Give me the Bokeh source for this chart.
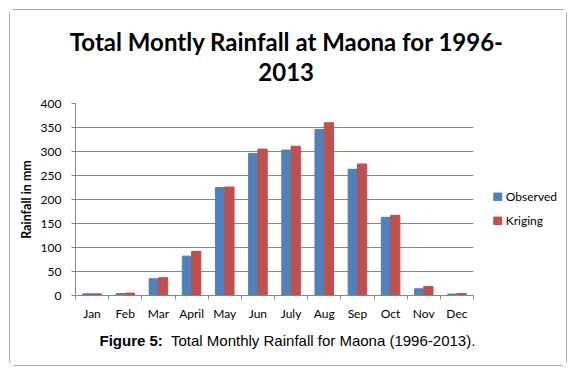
import numpy as np
from bokeh.plotting import figure
from bokeh.layouts import column, row
from bokeh.models import Range1d, FixedTicker, Label, ColumnDataSource
from bokeh.transform import dodge
from bokeh.embed import file_html
from bokeh.resources import INLINE

# ---- data ----
months = ["Jan", "Feb", "Mar", "April", "May", "Jun",
          "July", "Aug", "Sep", "Oct", "Nov", "Dec"]
observed = [3.5, 4, 35, 82, 225, 296, 303, 346, 263, 163, 14, 3]
kriging = [3.5, 5, 37, 92, 226, 305, 311, 360, 274, 167, 19, 4]
y_ticks = [0, 50, 100, 150, 200, 250, 300, 350, 400]
series_names = ["Observed", "Kriging"]
series_colors = ["#4F81BD", "#C0504D"]
title_lines = ["Total Montly Rainfall at Maona for 1996-", "2013"]
caption_bold = "Figure 5:"
caption_rest = "Total Monthly Rainfall for Maona (1996-2013)."
y_label = "Rainfall in mm"

font = "Lato"
grey = "#868686"

# ---- layout (page pixels) ----
OX, OY = 10, 10            # content origin inside the bordered box
CW, CH = 556, 355          # content size
TOP_B = 90                 # title strip bottom (page y)
MID_B = 327                # chart strip bottom (page y)
SPLIT = 480                # chart / legend split (page x)
FL, FT, FR, FB = 75, 103, 473, 295   # plot frame edges on page


def blank(x0, x1, y0, y1, **kw):
    f = figure(width=x1 - x0, height=y1 - y0, output_backend="svg",
               toolbar_location=None,
               x_axis_location=None, y_axis_location=None,
               min_border=0, min_border_left=0, min_border_right=0,
               background_fill_color="white", border_fill_color="white", **kw)
    f.grid.visible = False
    f.outline_line_color = None
    return f


# ---- title strip (data units == page pixels) ----
top = blank(OX, OX + CW, OY, TOP_B, x_range=Range1d(OX, OX + CW),
            y_range=Range1d(TOP_B, OY), min_border_top=0, min_border_bottom=0)
for txt, cx, cy in zip(title_lines, [286.5, 285.7], [41.2, 71.2]):
    top.add_layout(Label(x=cx, y=cy, text=txt, text_align="center",
                         text_baseline="middle", text_font=font,
                         text_font_style="bold", text_font_size="24px",
                         text_color="black"))

# ---- main chart ----
x = np.arange(1, len(months) + 1)
src = ColumnDataSource(dict(x=x, observed=observed, kriging=kriging))

p = figure(width=SPLIT - OX, height=MID_B - TOP_B, output_backend="svg",
           toolbar_location=None,
           x_range=Range1d(0.5, len(months) + 0.5), y_range=Range1d(0, 400),
           min_border_left=FL - OX, min_border_right=SPLIT - FR,
           min_border_top=FT - TOP_B, min_border_bottom=MID_B - FB,
           background_fill_color="white", border_fill_color="white")
p.outline_line_color = None

bw = 0.28
p.vbar(x=dodge("x", -bw / 2, range=p.x_range), top="observed", width=bw,
       source=src, fill_color=series_colors[0], line_color=series_colors[0])
p.vbar(x=dodge("x", bw / 2, range=p.x_range), top="kriging", width=bw,
       source=src, fill_color=series_colors[1], line_color=series_colors[1])

xa = p.xaxis[0]
xa.ticker = FixedTicker(ticks=list(x), minor_ticks=list(np.arange(0.5, len(months) + 1, 1.0)))
xa.major_label_overrides = {int(i): m for i, m in zip(x, months)}
xa.major_tick_line_color = None
xa.major_tick_out = 0
xa.major_tick_in = 0
xa.minor_tick_out = 4
xa.minor_tick_in = 0
xa.minor_tick_line_color = grey
xa.axis_line_color = grey
xa.major_label_standoff = 6
xa.major_label_text_font = font
xa.major_label_text_font_size = "12px"
xa.major_label_text_color = "black"

ya = p.yaxis[0]
ya.ticker = FixedTicker(ticks=y_ticks)
ya.minor_tick_line_color = None
ya.major_tick_out = 4
ya.major_tick_in = 0
ya.major_tick_line_color = grey
ya.axis_line_color = grey
ya.major_label_standoff = 10
ya.major_label_text_font = font
ya.major_label_text_font_size = "12px"
ya.major_label_text_color = "black"
ya.axis_label = y_label
ya.axis_label_text_font = font
ya.axis_label_text_font_style = "bold"
ya.axis_label_text_font_size = "12.5px"
ya.axis_label_standoff = 4
ya.axis_label_text_color = "black"

p.xgrid.grid_line_color = None
p.ygrid.grid_line_color = grey

# ---- legend strip (frame aligned with the chart frame; data units == page pixels) ----
leg = blank(SPLIT, OX + CW, TOP_B, MID_B, x_range=Range1d(SPLIT, OX + CW),
            y_range=Range1d(FB, FT), min_border_top=FT - TOP_B,
            min_border_bottom=MID_B - FB)
leg_src = ColumnDataSource(dict(
    sx=[497.3, 497.3], sy=[196.3, 220.3], tx=[505.3, 505.3],
    name=series_names, color=series_colors))
leg.rect(x="sx", y="sy", width=8, height=7.5, fill_color="color",
         line_color="color", source=leg_src)
leg.text(x="tx", y="sy", text="name", text_align="left", text_baseline="middle",
         text_font={"value": font}, text_font_size="12px", text_color="black",
         source=leg_src)

# ---- caption strip (data units == page pixels) ----
bot = blank(OX, OX + CW, MID_B, OY + CH, x_range=Range1d(OX, OX + CW),
            y_range=Range1d(OY + CH, MID_B), min_border_top=0, min_border_bottom=0)
bot.add_layout(Label(x=99, y=339.8, text=caption_bold, text_align="left",
                     text_baseline="middle", text_font="Liberation Sans",
                     text_font_style="bold", text_font_size="15px", text_color="black"))
bot.add_layout(Label(x=170.5, y=339.8, text=caption_rest, text_align="left",
                     text_baseline="middle", text_font="Liberation Sans",
                     text_font_size="15px", text_color="black"))

layout = column(top, row(p, leg, spacing=0), bot, spacing=0,
                styles={"margin": "9px 0 0 9px", "border": "1px solid #a6a6a6",
                        "border-radius": "6px"})

open("out.html", "w").write(file_html(layout, INLINE))
